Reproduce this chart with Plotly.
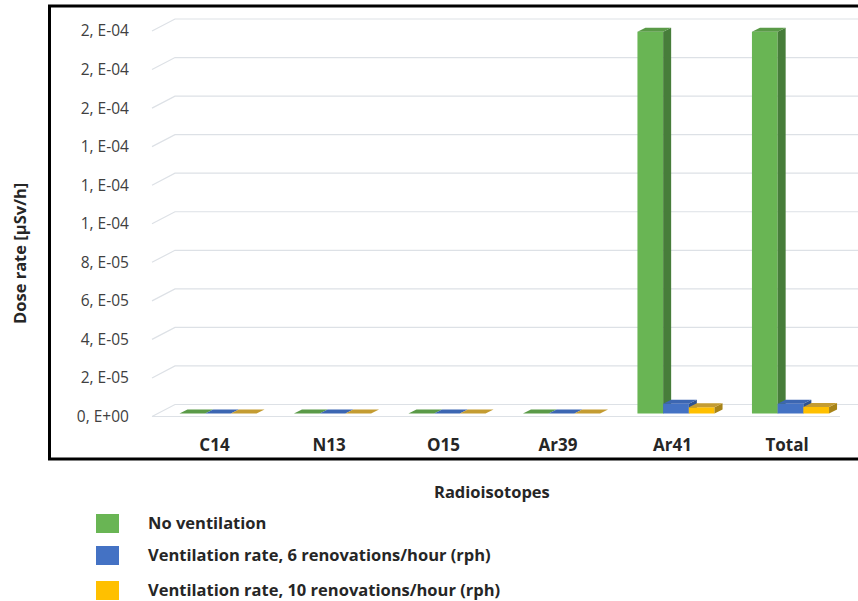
import plotly.graph_objects as go

# ---------------- data ----------------
categories = ["C14", "N13", "O15", "Ar39", "Ar41", "Total"]
series_names = [
    "No ventilation",
    "Ventilation rate, 6 renovations/hour (rph)",
    "Ventilation rate, 10 renovations/hour (rph)",
]
no_ventilation = [1e-8, 1e-8, 1e-8, 1e-8, 1.98e-4, 1.98e-4]
vent_6_rph = [1e-9, 1e-9, 1e-9, 1e-9, 5.0e-6, 5.1e-6]
vent_10_rph = [1e-9, 1e-9, 1e-9, 1e-9, 3.3e-6, 3.4e-6]
tick_vals = [0, 2e-5, 4e-5, 6e-5, 8e-5, 1.0e-4, 1.2e-4, 1.4e-4, 1.6e-4, 1.8e-4, 2.0e-4]
tick_text = ["0, E+00", "2, E-05", "4, E-05", "6, E-05", "8, E-05",
             "1, E-04", "1, E-04", "1, E-04", "2, E-04", "2, E-04", "2, E-04"]

series_values = [no_ventilation, vent_6_rph, vent_10_rph]

# ---------------- styles ----------------
front_colors = ["#69b554", "#4472c4", "#ffc000"]
side_colors = ["#477d3a", "#2f5391", "#a88418"]
top_colors = ["#5a9a47", "#3c66b2", "#c49c32"]
grid_color = "#dde1e6"
FONT = "Open Sans"

# ---------------- geometry (pixels) ----------------
W, H = 858, 601
PLOT_L, PLOT_R, PLOT_T, PLOT_B = 150, 858, 10, 422
X0_PX, CAT_PX = 214.5, 114.5
Y0_PX = 416.5
YPX = 385.5 / 2e-4


def dxu(px):
    return px / CAT_PX


def dyu(px):
    return px / YPX


def px_x(p):
    return (p - PLOT_L) / (PLOT_R - PLOT_L)


def px_y(p):
    return (PLOT_B - p) / (PLOT_B - PLOT_T)


x_range = [(PLOT_L - X0_PX) / CAT_PX, (PLOT_R - X0_PX) / CAT_PX]
y_range = [-(PLOT_B - Y0_PX) / YPX, (Y0_PX - PLOT_T) / YPX]

BW = dxu(25.7)
SHIFT_X = dxu(3.5)
BASE = dyu(3)
DX = dxu(8)
DY = dyu(4)

fig = go.Figure()

# back-wall gridlines with perspective slant
gx_front = dxu(152 - X0_PX)
gx_back = dxu(175 - X0_PX)
gdy = dyu(12)
gxs, gys = [], []
for v in tick_vals:
    gxs += [gx_front, gx_back, x_range[1] + 0.5, None]
    gys += [v, v + gdy, v + gdy, None]
# floor front edge
gxs += [gx_front, dxu(840 - X0_PX), None]
gys += [0, 0, None]
fig.add_trace(go.Scatter(x=gxs, y=gys, mode="lines",
                         line=dict(color=grid_color, width=1.2),
                         hoverinfo="skip", showlegend=False))

# bars as 3D boxes: front, side, top faces
for k, vals in enumerate(series_values):
    fx, fy, sx, sy, tx, ty = [], [], [], [], [], []
    for i, v in enumerate(vals):
        x0 = i + SHIFT_X + (k - 1.5) * BW
        x1 = x0 + BW
        y0 = BASE
        y1 = BASE + v
        fx += [x0, x1, x1, x0, x0, None]
        fy += [y0, y0, y1, y1, y0, None]
        sx += [x1, x1 + DX, x1 + DX, x1, x1, None]
        sy += [y0, y0 + DY, y1 + DY, y1, y0, None]
        tx += [x0, x1, x1 + DX, x0 + DX, x0, None]
        ty += [y1, y1, y1 + DY, y1 + DY, y1, None]
    for xs, ys, col in ((fx, fy, front_colors[k]),
                        (sx, sy, side_colors[k]),
                        (tx, ty, top_colors[k])):
        fig.add_trace(go.Scatter(x=xs, y=ys, mode="lines", fill="toself",
                                 fillcolor=col, line=dict(width=0, color=col),
                                 hoverinfo="skip", showlegend=False,
                                 name=series_names[k]))

shapes = []
annotations = []

# outer frame
shapes.append(dict(type="rect", xref="paper", yref="paper",
                   x0=px_x(49.5), x1=px_x(880), y0=px_y(459), y1=px_y(6),
                   line=dict(color="black", width=3), fillcolor="rgba(0,0,0,0)",
                   layer="above"))

# legend (manual)
leg_y = [523.5, 555.5, 590.5]
for k, name in enumerate(series_names):
    shapes.append(dict(type="rect", xref="paper", yref="paper",
                       x0=px_x(96), x1=px_x(119),
                       y0=px_y(leg_y[k] + 9.5), y1=px_y(leg_y[k] - 9.5),
                       line=dict(width=0), fillcolor=front_colors[k]))
    annotations.append(dict(xref="paper", yref="paper", x=px_x(146), y=px_y(leg_y[k] - 1.5),
                            text=name, showarrow=False, xanchor="left", yanchor="middle",
                            font=dict(family=FONT, size=16.5, color="#262626", weight=700)))

# axis titles
annotations.append(dict(xref="paper", yref="paper", x=px_x(492), y=px_y(491),
                        text="Radioisotopes", showarrow=False,
                        xanchor="center", yanchor="middle",
                        font=dict(family=FONT, size=16.5, color="#262626", weight=700)))
annotations.append(dict(xref="paper", yref="paper", x=px_x(20), y=px_y(254),
                        text="Dose rate [µSv/h]", showarrow=False, textangle=-90,
                        xanchor="center", yanchor="middle",
                        font=dict(family=FONT, size=16.5, color="#262626", weight=700)))

fig.update_layout(
    width=W, height=H,
    margin=dict(l=PLOT_L, r=W - PLOT_R, t=PLOT_T, b=H - PLOT_B, pad=0),
    paper_bgcolor="white", plot_bgcolor="white",
    showlegend=False,
    shapes=shapes, annotations=annotations,
    xaxis=dict(range=x_range, tickmode="array", tickvals=list(range(len(categories))),
               ticktext=categories, showgrid=False, zeroline=False, showline=False,
               ticks="outside", ticklen=8, tickcolor="rgba(0,0,0,0)",
               tickfont=dict(family=FONT, size=17, color="#262626", weight=700),
               fixedrange=True),
    yaxis=dict(range=y_range, tickmode="array", tickvals=tick_vals, ticktext=tick_text,
               showgrid=False, zeroline=False, showline=False,
               ticks="outside", ticklen=17, tickcolor="rgba(0,0,0,0)",
               tickfont=dict(family=FONT, size=15.5, color="#404040"),
               fixedrange=True),
)

fig.write_html("out.html")
